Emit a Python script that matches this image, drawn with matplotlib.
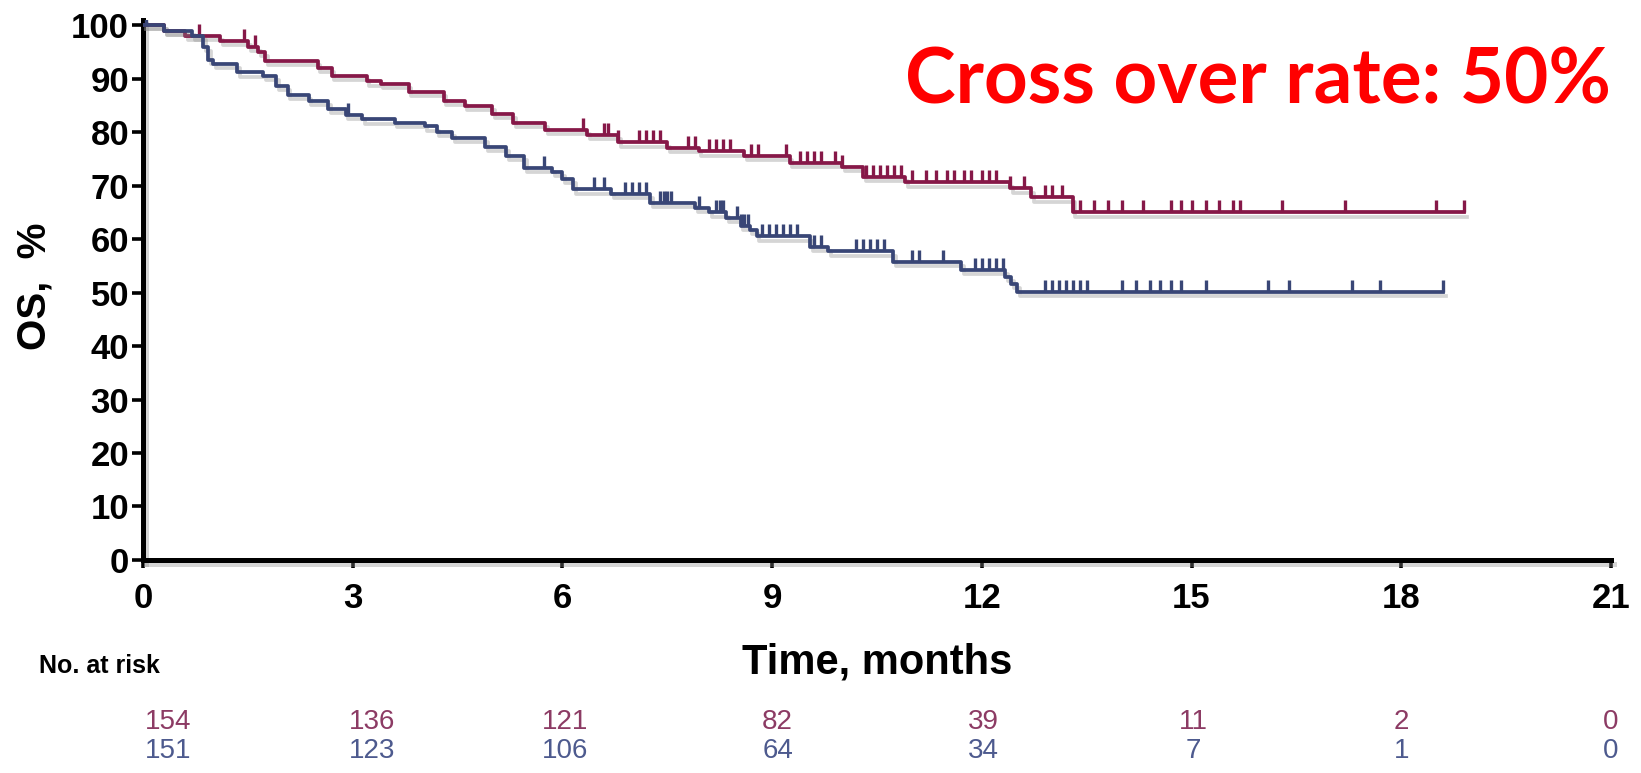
import numpy as np
import matplotlib
matplotlib.use("Agg")
import matplotlib.pyplot as plt
import matplotlib.patheffects as pe
from matplotlib.path import Path

# Kaplan-Meier steps: time of drop (months) and OS (%) after the drop
red_t = [0.3, 0.6, 1.1, 1.5, 1.65, 1.75, 2.5, 2.7, 3.2, 3.4, 3.8, 4.3, 4.6, 5.0,
         5.3, 5.75, 6.35, 6.8, 7.5, 7.95, 8.6, 9.25, 10.0, 10.3, 10.9, 12.4,
         12.7, 13.3]
red_s = [99.0, 98.0, 97.0, 96.0, 95.0, 93.3, 92.0, 90.5, 89.5, 89.0, 87.6, 85.8,
         84.9, 83.5, 81.8, 80.5, 79.5, 78.1, 77.1, 76.4, 75.5, 74.3, 73.5, 71.7,
         70.6, 69.5, 67.8, 65.0]
red_end = 18.9
red_cens = [0.8, 1.45, 1.6, 6.3, 6.6, 6.65, 6.8, 7.1, 7.2, 7.3, 7.4, 7.8, 7.9,
            8.1, 8.2, 8.3, 8.4, 8.7, 8.8, 9.2, 9.4, 9.5, 9.6, 9.7, 9.9, 10.0,
            10.35, 10.45, 10.55, 10.65, 10.75, 10.85, 11.0, 11.2, 11.35, 11.5,
            11.6, 11.75, 11.85, 12.0, 12.1, 12.2, 12.4, 12.6, 12.9, 13.0, 13.15,
            13.3, 13.4, 13.6, 13.8, 14.0, 14.3, 14.7, 14.85, 15.0, 15.2, 15.4,
            15.6, 15.7, 16.3, 17.2, 18.5, 18.9]

blue_t = [0.3, 0.7, 0.86, 0.93, 1.0, 1.35, 1.72, 1.9, 2.07, 2.37, 2.65, 2.9,
          3.13, 3.6, 4.03, 4.2, 4.42, 4.9, 5.2, 5.45, 5.85, 6.0, 6.15, 6.7,
          7.25, 7.9, 8.1, 8.34, 8.55, 8.68, 8.78, 9.54, 9.8, 10.73, 11.7,
          12.33, 12.42, 12.5]
blue_s = [99.0, 98.0, 96.0, 93.6, 92.7, 91.2, 90.5, 88.6, 87.0, 85.8, 84.3,
          83.3, 82.4, 81.8, 81.1, 80.0, 79.0, 77.2, 75.5, 73.4, 72.5, 71.2,
          69.3, 68.4, 66.8, 65.9, 65.0, 64.0, 62.5, 61.8, 60.5, 58.6, 57.7,
          55.8, 54.3, 53.0, 51.6, 50.2]
blue_end = 18.6
blue_cens = [0.05, 2.94, 5.74, 6.45, 6.6, 6.9, 7.0, 7.1, 7.2, 7.4, 7.45, 7.5,
             7.55, 7.96, 8.2, 8.25, 8.3, 8.5, 8.55, 8.6, 8.65, 8.85, 8.95,
             9.05, 9.15, 9.25, 9.35, 9.6, 9.7, 10.2, 10.3, 10.4, 10.5, 10.6,
             11.0, 11.1, 11.45, 11.9, 12.0, 12.1, 12.2, 12.3, 12.9, 13.0, 13.1,
             13.2, 13.3, 13.4, 13.5, 14.0, 14.2, 14.4, 14.55, 14.7, 14.85,
             15.2, 16.1, 16.4, 17.3, 17.7, 18.6]

# numbers at risk
risk_times = [0, 3, 6, 9, 12, 15, 18, 21]
risk_red = [154, 136, 121, 82, 39, 11, 2, 0]
risk_blue = [151, 123, 106, 64, 34, 7, 1, 0]
# small horizontal nudge (points) of the risk columns
risk_dx = [18, 14, 2, 4, 1, 1, 0, 0]

red = "#861848"
blue = "#394676"
red_txt = "#8c3b64"
blue_txt = "#4d5a8e"

plt.rcParams['font.family'] = ['Liberation Sans', 'DejaVu Sans']

fig = plt.figure(figsize=(16.41, 7.73), dpi=100)
ax = fig.add_axes([0.0871, 0.2756, 0.8946, 0.6986])

shadow = [pe.SimpleLineShadow(offset=(2, -3), shadow_color='#888888', alpha=0.35),
          pe.Normal()]
tick_marker = Path([(0, 0), (0, 1)])


def km(times, surv, end, cens, color):
    t = np.r_[0, times, end]
    s = np.r_[100, surv, surv[-1]]
    ax.step(t, s, where='post', color=color, lw=2.7, path_effects=shadow,
            zorder=3)
    idx = np.searchsorted(times, cens, side='right')
    cy = np.r_[100, surv][idx]
    ax.plot(cens, cy, ls='none', marker=tick_marker, ms=18, mew=2.4,
            color=color, zorder=3)


km(red_t, red_s, red_end, red_cens, red)
km(blue_t, blue_s, blue_end, blue_cens, blue)

ax.set_xlim(0, 21)
ax.set_ylim(0, 101)
ax.set_xticks(risk_times)
ax.set_yticks(np.arange(0, 101, 10))
for s in ['top', 'right']:
    ax.spines[s].set_visible(False)
for s in ['left', 'bottom']:
    ax.spines[s].set_linewidth(3.6)
    ax.spines[s].set_path_effects(shadow)
ax.tick_params(axis='both', direction='out', width=2.6, length=8,
               labelsize=25, pad=2)
ax.tick_params(axis='x', length=6, pad=10)
for lab in ax.get_xticklabels() + ax.get_yticklabels():
    lab.set_fontweight('bold')

# y label placed as free text so it sits close to the figure edge
fig.text(0.021, 0.63, 'OS,  %', rotation=90, ha='center', va='center',
         fontsize=29, fontweight='bold')
ax.text(10.5, -0.19, 'Time, months', transform=ax.get_xaxis_transform(),
        ha='center', va='center', fontsize=30, fontweight='bold')

# risk table below the axis
fig.text(0.024, 0.138, 'No. at risk', fontsize=18, fontweight='bold',
         va='center')
trans = ax.get_xaxis_transform()
for t, r, b, dx in zip(risk_times, risk_red, risk_blue, risk_dx):
    ax.annotate(str(r), (t, -0.30), xycoords=trans, xytext=(dx, 0),
                textcoords='offset points', ha='center', va='center',
                fontsize=20, color=red_txt, annotation_clip=False)
    ax.annotate(str(b), (t, -0.354), xycoords=trans, xytext=(dx, 0),
                textcoords='offset points', ha='center', va='center',
                fontsize=20, color=blue_txt, annotation_clip=False)

fig.text(0.982, 0.866, 'Cross over rate: 50%', ha='right', va='baseline',
         fontsize=55, fontweight='bold', color='#ff0000',
         family=['Lato', 'DejaVu Sans'])

fig.savefig('out.png', dpi=100)
